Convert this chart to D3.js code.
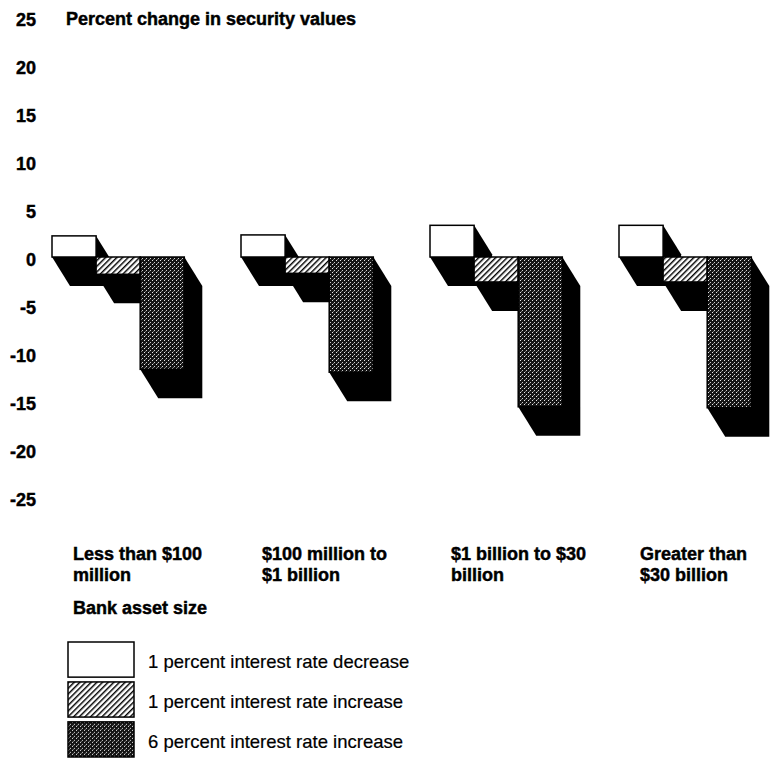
<!DOCTYPE html>
<html>
<head>
<meta charset="utf-8">
<script src="https://cdn.jsdelivr.net/npm/d3@7/dist/d3.min.js"></script>
<style>
  body { margin: 0; background: #fff; }
  text { font-family: "Liberation Sans", Arial, Helvetica, sans-serif; fill: #000; }
  .bold { font-weight: bold; font-size: 18px; stroke: #000; stroke-width: 0.45px; }
</style>
</head>
<body>
<div id="chart"></div>
<script>
// categories (bank asset size), with line breaks as printed
var groups = ["Less than $100 million", "$100 million to $1 billion", "$1 billion to $30 billion", "Greater than $30 billion"];
var groupLines = [["Less than $100", "million"], ["$100 million to", "$1 billion"], ["$1 billion to $30", "billion"], ["Greater than", "$30 billion"]];

var series = ["1 percent interest rate decrease", "1 percent interest rate increase", "6 percent interest rate increase"];

// percent change in security values
var rateDown1 = [2.2, 2.3, 3.3, 3.3];
var rateUp1 = [-1.8, -1.7, -2.6, -2.6];
var rateUp6 = [-11.7, -12.0, -15.6, -15.7];

var yTicks = [25, 20, 15, 10, 5, 0, -5, -10, -15, -20, -25];

const w = 771;
const h = 760;
const depth = [18, 29];   // 3-d extrusion offset

var dataset = [];
groups.forEach((g, i) => {
    dataset.push({ group: g, series: series[0], value: rateDown1[i] });
    dataset.push({ group: g, series: series[1], value: rateUp1[i] });
    dataset.push({ group: g, series: series[2], value: rateUp6[i] });
});

const svg = d3.select("#chart")
    .append("svg")
    .attr("width", w)
    .attr("height", h);

// fills
var defs = svg.append("defs");
var hatch = defs.append("pattern")
    .attr("id", "hatch")
    .attr("patternUnits", "userSpaceOnUse")
    .attr("width", 4).attr("height", 4)
    .attr("patternTransform", "rotate(45)");
hatch.append("rect").attr("width", 4).attr("height", 4).attr("fill", "#fff");
hatch.append("line").attr("x1", 0).attr("y1", 0).attr("x2", 0).attr("y2", 4)
    .attr("stroke", "#000").attr("stroke-width", 2.9);

var stipple = defs.append("pattern")
    .attr("id", "stipple")
    .attr("patternUnits", "userSpaceOnUse")
    .attr("width", 4).attr("height", 4);
stipple.append("rect").attr("width", 4).attr("height", 4).attr("fill", "#141414");
stipple.append("rect").attr("x", 0).attr("y", 0).attr("width", 1).attr("height", 1).attr("fill", "#e8e8e8");
stipple.append("rect").attr("x", 2).attr("y", 2).attr("width", 1).attr("height", 1).attr("fill", "#cfcfcf");
stipple.append("rect").attr("x", 1).attr("y", 3).attr("width", 1).attr("height", 1).attr("fill", "#777");

const color = d3.scaleOrdinal()
    .domain(series)
    .range(["#fff", "url(#hatch)", "url(#stipple)"]);

const x0 = d3.scaleBand()
    .domain(groups)
    .range([52, 808])
    .padding(0);

const x1 = d3.scaleBand()
    .domain(series)
    .range([0, x0.bandwidth() * 0.7]);

const yScale = d3.scaleLinear()
    .domain([-25, 25])
    .range([497, 17]);

// Y axis (labels only), plain hyphen for negatives
const yAxis = d3.axisLeft(yScale)
    .tickValues(yTicks)
    .tickFormat((d) => String(d))
    .tickSize(0)
    .tickPadding(0);
var yg = svg.append("g")
    .attr("id", "y-axis")
    .attr("transform", "translate(36,0)")
    .call(yAxis);
yg.select(".domain").remove();
yg.attr("font-family", null).attr("font-size", null);
yg.selectAll("text")
    .attr("class", "bold")
    .attr("dy", "0.45em");

function rectOf(d) {
    var xa = x0(d.group) + x1(d.series);
    var xb = xa + x1.bandwidth();
    var ya = Math.min(yScale(d.value), yScale(0));
    var yb = Math.max(yScale(d.value), yScale(0));
    return [xa, ya, xb, yb];
}

// black extrusions first
svg.append("g").selectAll("polygon")
    .data(dataset)
    .enter()
    .append("polygon")
    .attr("fill", "#000")
    .attr("points", (d) => {
        var r = rectOf(d);
        var dx = depth[0], dy = depth[1];
        return [[r[0], r[1]], [r[2], r[1]], [r[2] + dx, r[1] + dy], [r[2] + dx, r[3] + dy],
                [r[0] + dx, r[3] + dy], [r[0], r[3]]].join(" ");
    });

// front faces
svg.append("g").selectAll("rect")
    .data(dataset)
    .enter()
    .append("rect")
    .attr("x", (d) => rectOf(d)[0])
    .attr("y", (d) => rectOf(d)[1])
    .attr("width", x1.bandwidth())
    .attr("height", (d) => rectOf(d)[3] - rectOf(d)[1])
    .attr("fill", (d) => color(d.series))
    .attr("stroke", "#000")
    .attr("stroke-width", 1.5);

// title
svg.append("text")
    .attr("class", "bold")
    .attr("x", 66)
    .attr("y", 25)
    .text("Percent change in security values");

// category labels
var cat = svg.append("g").selectAll("text")
    .data(groups)
    .enter()
    .append("text")
    .attr("class", "bold")
    .attr("x", (d) => x0(d) + 21)
    .attr("y", 560);
cat.each(function (d, i) {
    groupLines[i].forEach((line, j) => {
        d3.select(this).append("tspan")
            .attr("x", x0(d) + 21)
            .attr("dy", j === 0 ? 0 : 21)
            .text(line);
    });
});

svg.append("text")
    .attr("class", "bold")
    .attr("x", 73)
    .attr("y", 614)
    .text("Bank asset size");

// legend
var legendY = d3.scaleBand().domain(series).range([642, 757]).paddingInner(0.12);
var lg = svg.append("g").selectAll("g")
    .data(series)
    .enter()
    .append("g")
    .attr("transform", (d) => "translate(0," + legendY(d) + ")");
lg.append("rect")
    .attr("x", 68)
    .attr("y", 0)
    .attr("width", 66)
    .attr("height", legendY.bandwidth())
    .attr("fill", (d) => color(d))
    .attr("stroke", "#000")
    .attr("stroke-width", 1.5);
lg.append("text")
    .attr("x", 148)
    .attr("y", legendY.bandwidth() / 2 + 8.5)
    .style("font-size", "18.5px")
    .style("stroke", "#000")
    .style("stroke-width", "0.2px")
    .text((d) => d);
</script>
</body>
</html>
